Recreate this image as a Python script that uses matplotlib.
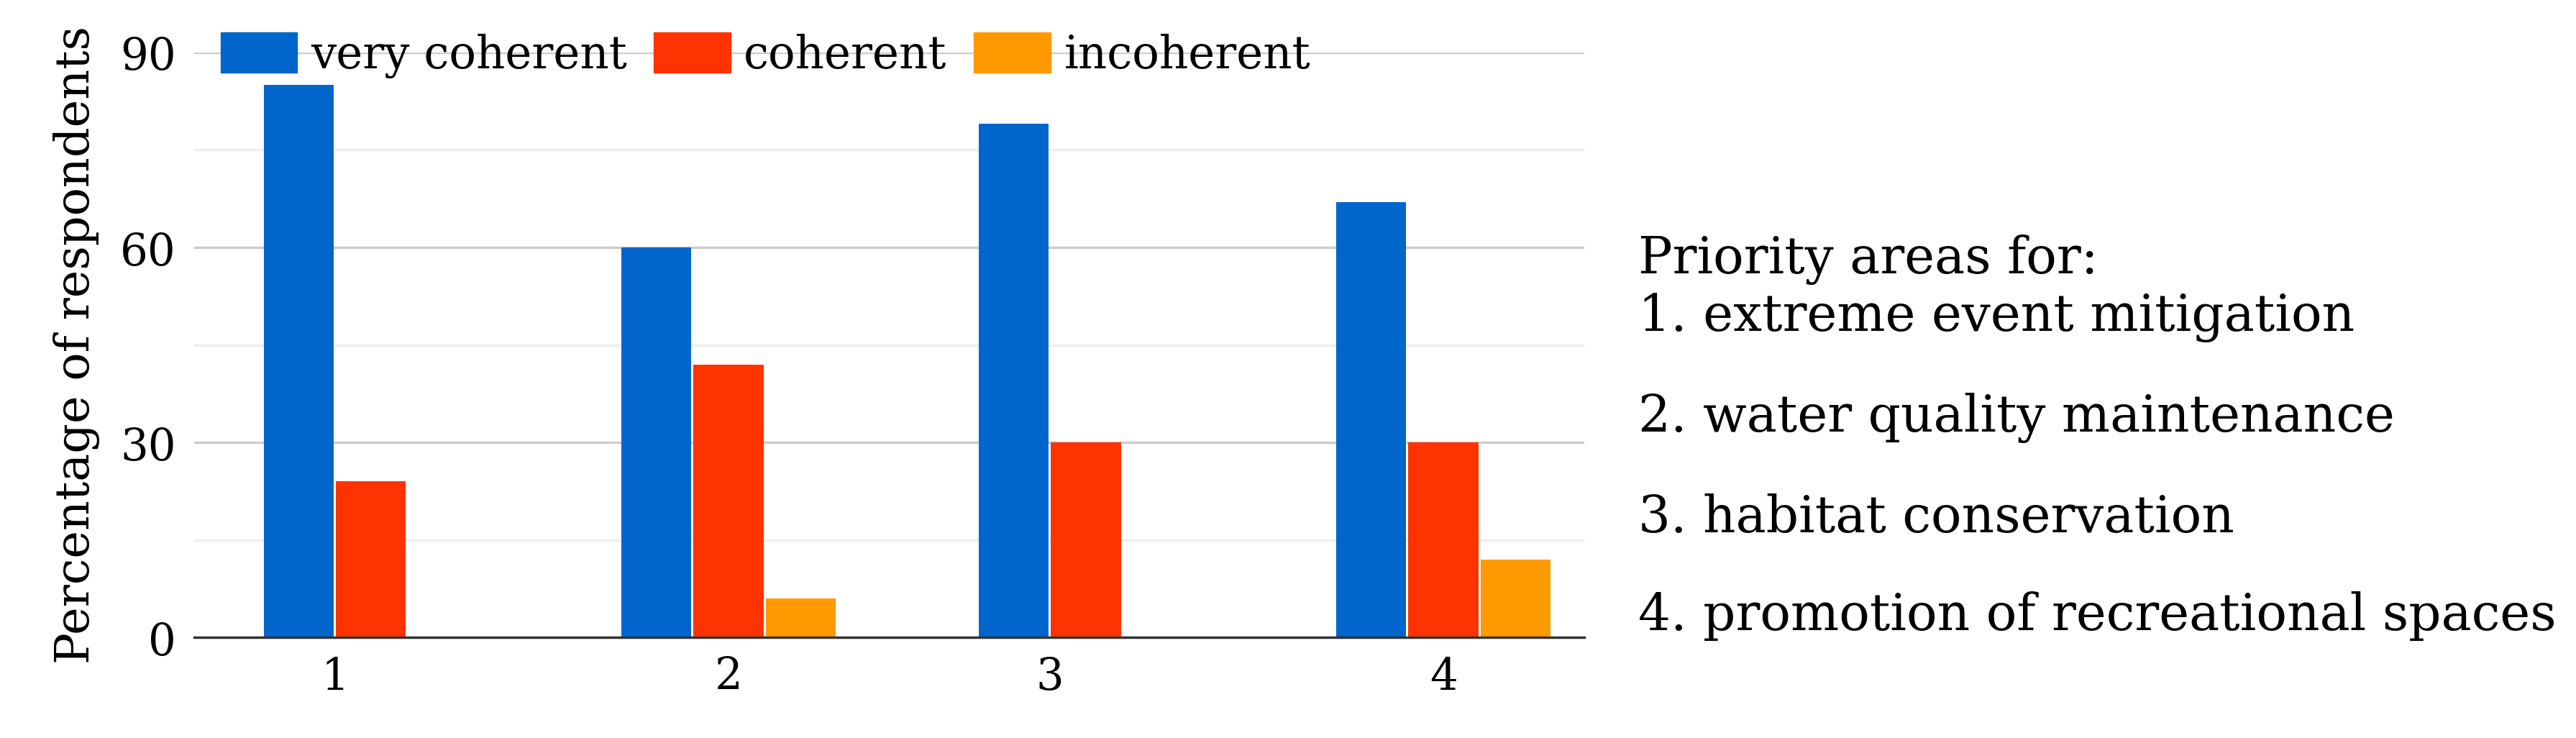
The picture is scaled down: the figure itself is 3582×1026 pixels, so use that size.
import matplotlib
matplotlib.use("Agg")
import matplotlib.pyplot as plt
import numpy as np

categories = ["1", "2", "3", "4"]
series_names = ["very coherent", "coherent", "incoherent"]
very_coherent = [85, 60, 79, 67]
coherent = [24, 42, 30, 30]
incoherent = [0, 6, 0, 12]
colors = ["#0066CC", "#FF3300", "#FF9900"]
yticks = [0, 30, 60, 90]
notes = ["Priority areas for:", "1. extreme event mitigation", "2. water quality maintenance",
         "3. habitat conservation", "4. promotion of recreational spaces"]

plt.rcParams['font.family'] = ['DejaVu Serif']
fig = plt.figure(figsize=(35.82, 10.26), dpi=100)
ax = fig.add_axes([0.0753, 0.136, 0.5397, 0.793])

series = [very_coherent, coherent, incoherent]
w = 1.0
period = 4.95
ticks = []
handles = []
for i in range(len(categories)):
    centers = []
    for j, s in enumerate(series):
        if s[i] > 0:
            x = i * period + j * w + w / 2
            ax.bar(x, s[i], width=w * 0.97, color=colors[j], zorder=3)
            centers.append(x)
    ticks.append(np.mean(centers))
for j, n in enumerate(series_names):
    handles.append(plt.Rectangle((0, 0), 1, 1, color=colors[j], label=n))

ax.set_xlim(-0.95, 18.3)
ax.set_ylim(0, 90)
ax.set_xticks(ticks)
ax.set_xticklabels(categories, fontsize=44)
ax.set_yticks(yticks)
ax.set_yticklabels([str(v) for v in yticks], fontsize=44)
ax.set_yticks([15, 45, 75], minor=True)
ax.grid(axis='y', which='major', color='#CCCCCC', lw=2.5, zorder=0)
ax.grid(axis='y', which='minor', color='#EEEEEE', lw=2.5, zorder=0)
ax.tick_params(length=0, pad=18)
ax.tick_params(which='minor', length=0)
for sp in ['top', 'right', 'left']:
    ax.spines[sp].set_visible(False)
ax.spines['bottom'].set_color('#333333')
ax.spines['bottom'].set_linewidth(2.5)
ax.spines['bottom'].set_zorder(4)
ax.set_ylabel("Percentage of respondents", fontsize=47, labelpad=20)

fig.legend(handles=handles, loc='center left', bbox_to_anchor=(0.070, 0.925), ncol=3,
           frameon=False, fontsize=45, handlelength=1.7, handleheight=1.0,
           handletextpad=0.3, columnspacing=0.6)

ys = [0.648, 0.570, 0.434, 0.298, 0.165]
for t, y in zip(notes, ys):
    fig.text(0.636, y, t, fontsize=51, va='center', ha='left')

fig.savefig("out.png", dpi=100)
